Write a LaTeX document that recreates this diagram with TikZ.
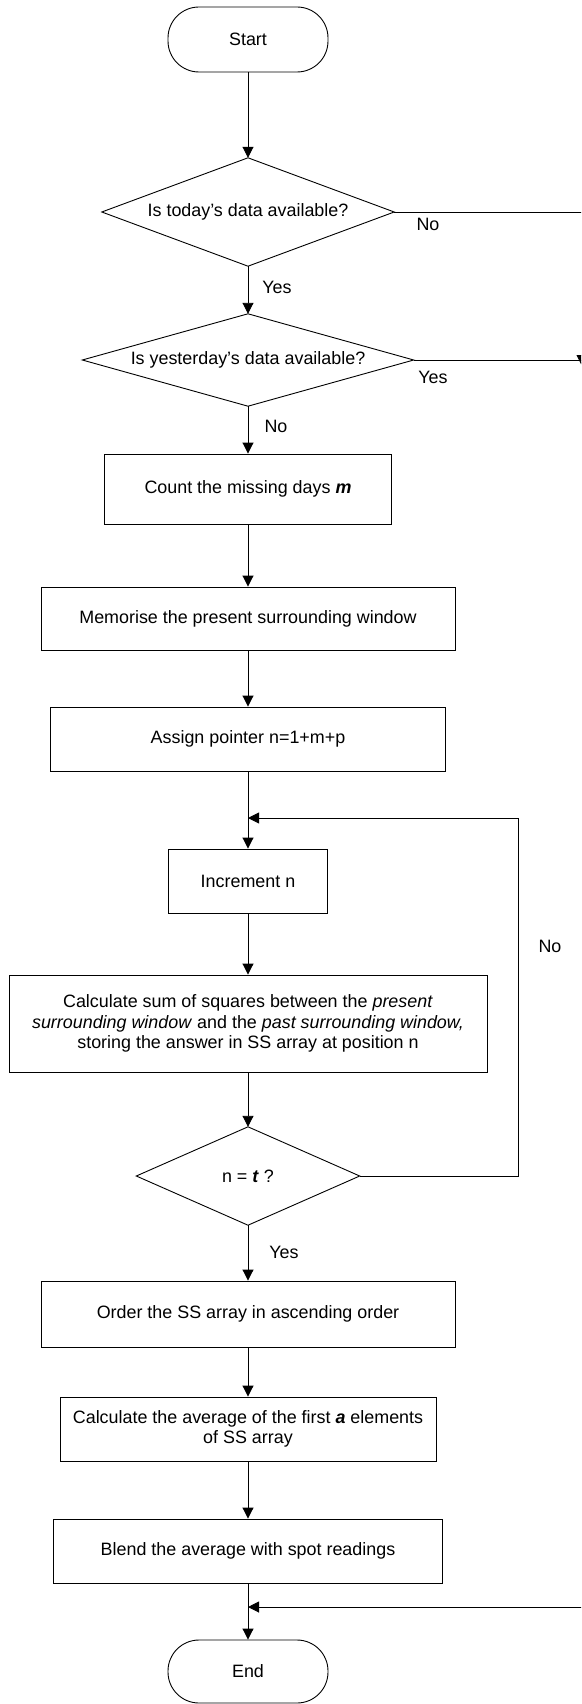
\documentclass[tikz,border=0pt]{standalone}
\usepackage{fontspec}
\setmainfont{Liberation Sans}
\usetikzlibrary{arrows.meta}
\begin{document}
\begin{tikzpicture}[x=1pt,y=-1pt,
  every node/.style={font=\fontsize{17.9}{20.5}\selectfont},
  lw/.style={line width=0.9pt},
  term/.style={lw,draw,rectangle,rounded corners=31pt,minimum width=160pt,inner sep=0pt},
  proc/.style={lw,draw,rectangle,inner sep=0pt,align=center},
  dec/.style={rectangle,inner sep=0pt},
  lab/.style={anchor=base,inner sep=0pt},
  conn/.style={lw,-{Triangle[length=11pt,width=11pt]}},
  line/.style={lw}]
\useasboundingbox (0,0) rectangle (581,1704);
\clip (0,0) rectangle (581,1704);
\node[term,minimum height=65pt] (start) at (248,39.5) {Start};
\node[dec,minimum width=292pt,minimum height=108pt] (d1) at (248,212) {Is today’s data available?};
\node[dec,minimum width=331pt,minimum height=92pt] (d2) at (248,360) {Is yesterday’s data available?};
\node[proc,minimum width=287pt,minimum height=70pt] (count) at (248,489) {Count the missing days \textbf{\textit{m}}};
\node[proc,minimum width=414pt,minimum height=63pt] (mem) at (248,618.5) {Memorise the present surrounding window};
\node[proc,minimum width=395pt,minimum height=64pt] (assign) at (248,739) {Assign pointer n=1+m+p};
\node[proc,minimum width=159pt,minimum height=64pt] (incr) at (248,881) {Increment n};
\node[proc,minimum width=478pt,minimum height=97pt] (calc) at (248,1023.5) {Calculate sum of squares between the \textit{present}\\\textit{surrounding window} and the \textit{past surrounding window,}\\storing the answer in SS array at position n};
\node[dec,minimum width=223pt,minimum height=98pt] (d3) at (248,1176) {n = \textbf{\textit{t}} ?};
\node[proc,minimum width=414pt,minimum height=66pt] (order) at (248,1314) {Order the SS array in ascending order};
\node[proc,minimum width=376pt,minimum height=64pt] (avg) at (248,1429) {Calculate the average of the first \textbf{\textit{a}} elements\\of SS array};
\node[proc,minimum width=389pt,minimum height=64pt] (blend) at (248,1551) {Blend the average with spot readings};
\node[term,minimum height=63pt] (end) at (248,1671.5) {End};
% diamond outlines
\foreach \d in {d1,d2,d3}
  \draw[lw] (\d.west) -- (\d.north) -- (\d.east) -- (\d.south) -- cycle;
% labels
\node[lab] (l1) at (428,230.5) {No};
\node[lab] (l2) at (277,293.5) {Yes};
\node[lab] (l3) at (433,383.5) {Yes};
\node[lab] (l4) at (276,432.5) {No};
\node[lab] (l5) at (550,952.5) {No};
\node[lab] (l6) at (284,1258.5) {Yes};
% coordinates
\coordinate (r1) at (582,212);
\coordinate (r1b) at (582,366);
\coordinate (r2) at (582,360);
\coordinate (r3) at (582,1607);
\coordinate (m) at (248,1607);
\coordinate (lp1) at (518,1176);
\coordinate (lp2) at (518,818);
\coordinate (j) at (248,818);
% connectors
\draw[conn] (start) -- (d1);
\draw[conn] (d1) -- (d2);
\draw[conn] (d2) -- (count);
\draw[conn] (count) -- (mem);
\draw[conn] (mem) -- (assign);
\draw[conn] (assign) -- (incr);
\draw[conn] (incr) -- (calc);
\draw[conn] (calc) -- (d3);
\draw[conn] (d3) -- (order);
\draw[conn] (order) -- (avg);
\draw[conn] (avg) -- (blend);
\draw[conn] (blend) -- (end);
\draw[conn] (d3.east) -- (lp1) -- (lp2) -- (j);
\draw[conn] (d1.east) -- (r1) -- (r1b);
\draw[line] (d2.east) -- (r2) -- (r3);
\draw[conn] (r3) -- (m);
\end{tikzpicture}
\end{document}
